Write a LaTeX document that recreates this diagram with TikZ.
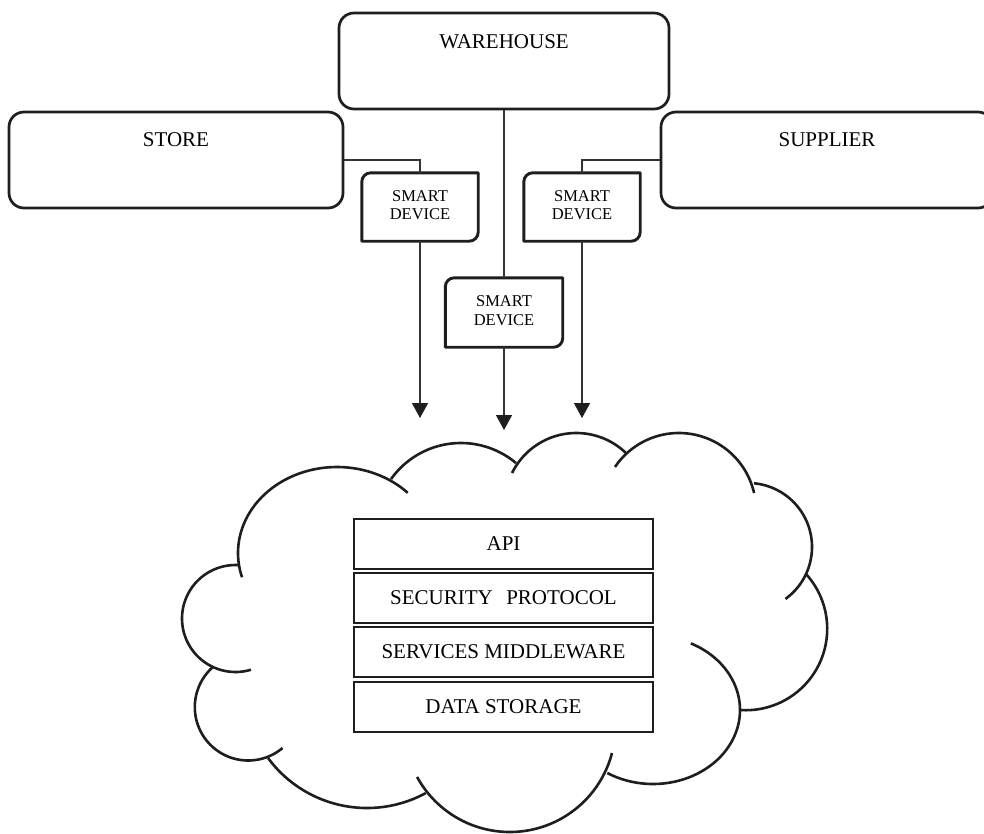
\documentclass[tikz,border=0pt]{standalone}
\usepackage{fontspec}
\setmainfont{Liberation Serif}
\usetikzlibrary{arrows.meta,calc}

\definecolor{ink}{HTML}{1E1E1E}
\definecolor{wirecol}{HTML}{333333}

\tikzset{
  bigbox/.style={draw=ink, line width=2.7pt, rounded corners=15pt, inner sep=0pt,
    anchor=base, text height=34pt, text depth=62pt,
    font=\fontsize{21}{25}\selectfont},
  devbox/.style={inner sep=0pt, minimum width=116pt, minimum height=68pt,
    font=\fontsize{16.5}{18.5}\selectfont},
  devborder/.style={draw=ink, line width=2.9pt, line join=round},
  layerbox/.style={draw=ink, line width=2.5pt, minimum width=299pt,
    minimum height=50pt, inner sep=0pt, font=\fontsize{21}{25}\selectfont},
  wire/.style={draw=wirecol, line width=1.4pt},
  flow/.style={wire, -{Triangle[length=15pt,width=16pt,color=ink]}},
  cloudline/.style={draw=ink, line width=2.6pt},
}

% outline of a device box: top-left and bottom-right corners rounded
\newcommand{\smartoutline}[1]{%
  \draw[devborder] (#1.south west) -- ([yshift=-9pt]#1.north west)
    arc[start angle=180, end angle=90, radius=9pt] -- (#1.north east)
    -- ([yshift=9pt]#1.south east)
    arc[start angle=0, end angle=-90, radius=9pt] -- cycle;}

% one lobe of the cloud: centre, radii, parameter range
\newcommand{\cloudlobe}[6]{%
  \draw[cloudline] plot[domain=#5:#6, samples=70, variable=\t]
    ({#1+#3*cos(\t)},{#2+#4*sin(\t)});}

\newcommand{\devlabel}{\begin{tabular}{@{}c@{}}SMART\\DEVICE\end{tabular}}

\begin{document}
\begin{tikzpicture}[x=1pt, y=-1pt]
  \clip (0,0) rectangle (984,833);
  \fill[white] (0,0) rectangle (984,833);

  % sites
  \node[bigbox, minimum width=330pt, text height=35pt, text depth=61pt]
    (wh) at (504,48) {WAREHOUSE};
  \node[bigbox, minimum width=334pt] (store) at (176,146) {STORE};
  \node[bigbox, minimum width=332pt] (supplier) at (827,146) {SUPPLIER};

  % smart devices
  \node[devbox] (d1) at (420,207) {\devlabel};
  \node[devbox, minimum width=117pt, minimum height=69pt] (d2) at (504,312.5) {\raisebox{1.2pt}{\devlabel}};
  \node[devbox] (d3) at (582,207) {\devlabel};
  \smartoutline{d1}
  \smartoutline{d2}
  \smartoutline{d3}

  % links from the sites to their devices
  \draw[wire] (store.east) -| (d1.north);
  \draw[wire] (supplier.west) -| (d3.north);
  \draw[wire] (wh.south) -- (d2.north);

  % data flowing into the cloud
  \coordinate (t1) at (420,418);
  \coordinate (t2) at (504,430);
  \coordinate (t3) at (582,418);
  \draw[flow] (d1.south) -- (t1);
  \draw[flow] (d2.south) -- (t2);
  \draw[flow] (d3.south) -- (t3);

  % cloud
  \cloudlobe{337}{553}{99}{86}{163.6}{315.6}
  \cloudlobe{460.9}{528.7}{85.7}{85.7}{215.4}{310}
  \cloudlobe{576.3}{504.6}{71.6}{71.6}{206.2}{313.9}
  \cloudlobe{678.9}{510.1}{77.1}{77.1}{214}{347.2}
  \cloudlobe{748}{547}{64}{64}{-84.6}{54.2}
  \cloudlobe{745.8}{628.8}{81.4}{81.4}{-42.3}{94.1}
  \cloudlobe{653}{710}{87}{74}{-64.2}{121.7}
  \cloudlobe{509.8}{726.4}{105.6}{105.6}{14.6}{151.4}
  \cloudlobe{367}{685}{123}{123}{61.4}{143.6}
  \cloudlobe{248.2}{707.1}{53.4}{53.4}{50}{228.7}
  \cloudlobe{235.5}{618.5}{53.5}{53.5}{73.2}{272.7}

  % platform layers
  \node[layerbox] (api) at (503.5,544) {API};
  \node[layerbox] (sec) at (503.5,598) {SECURITY\hspace{0.64em}PROTOCOL};
  \node[layerbox] (mid) at (503.5,652) {SERVICES MIDDLEWARE};
  \node[layerbox] (dat) at (503.5,707) {DATA STORAGE};
\end{tikzpicture}
\end{document}
